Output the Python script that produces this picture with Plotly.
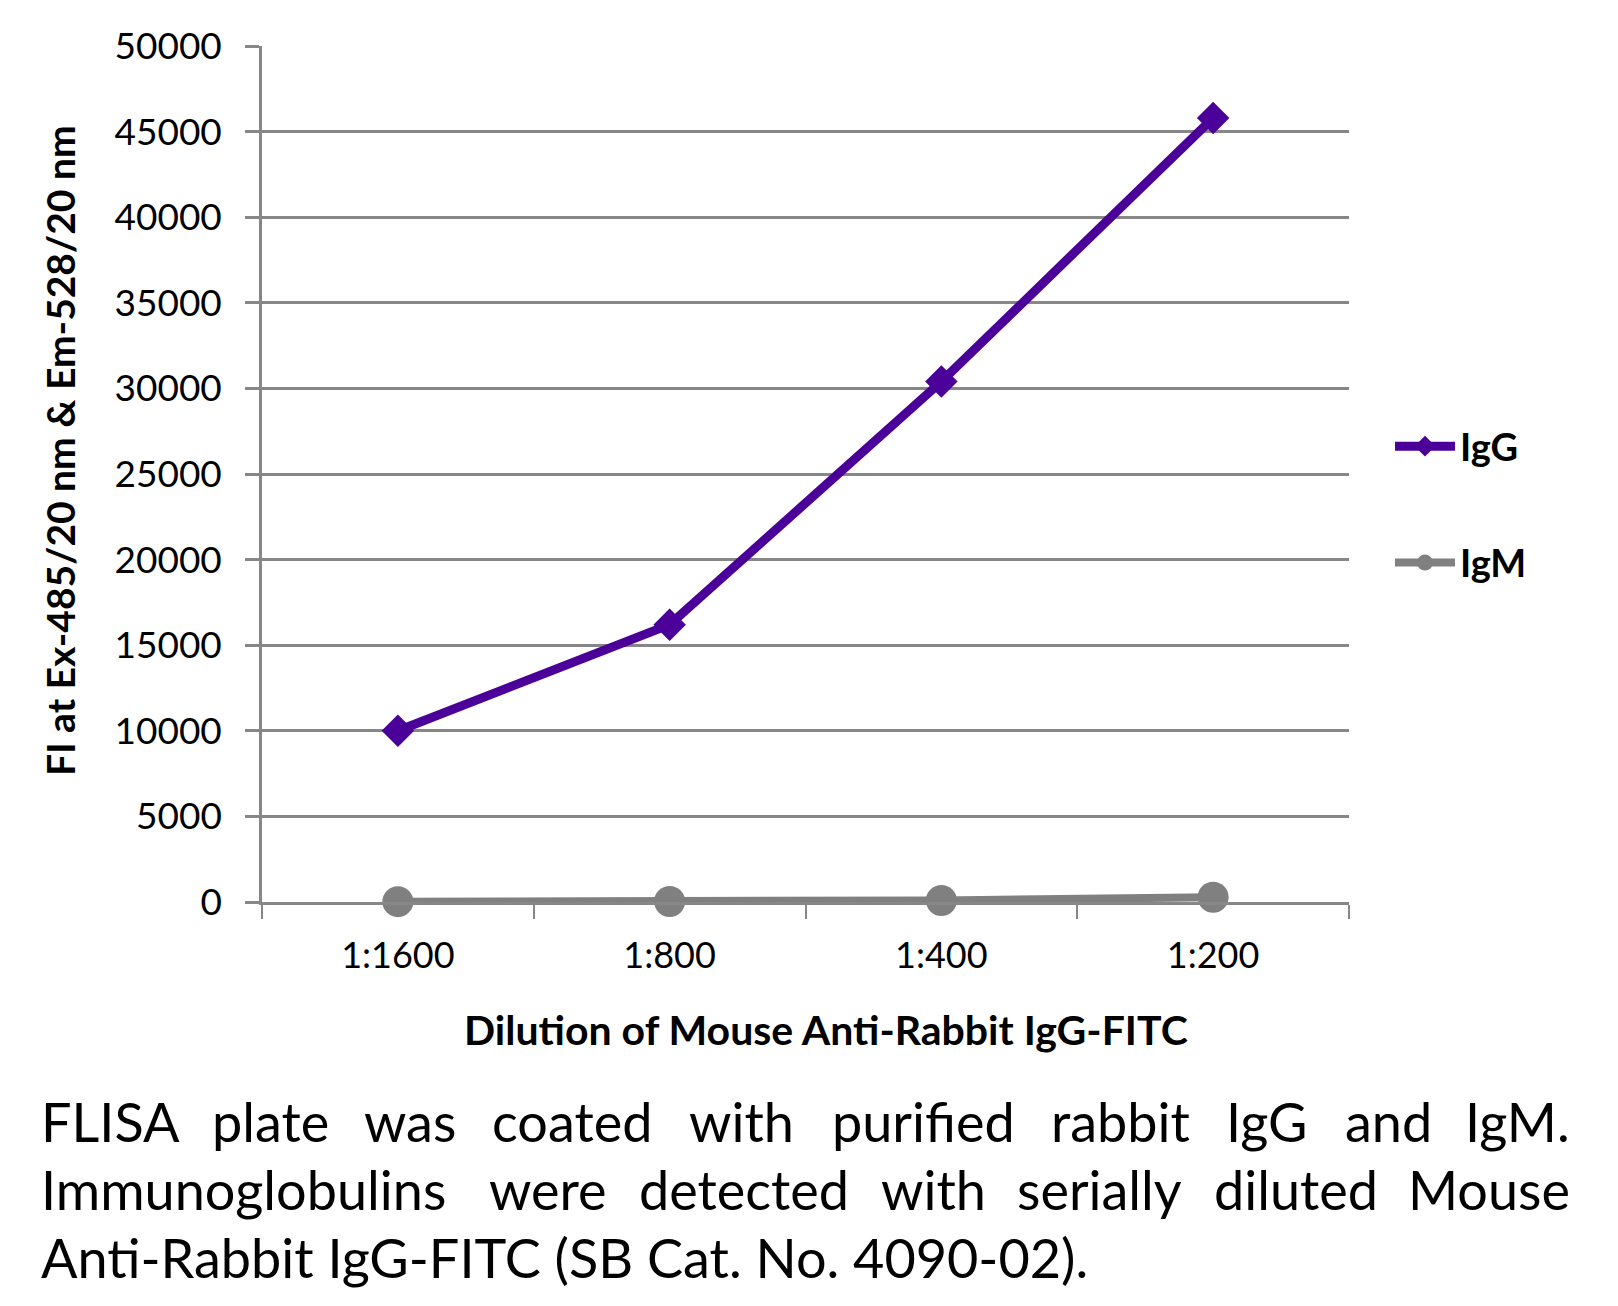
import plotly.graph_objects as go

# ---- data ----
dilutions = ["1:1600", "1:800", "1:400", "1:200"]
igg_values = [10000, 16200, 30400, 45800]
igm_values = [20, 30, 90, 280]
y_ticks = [0, 5000, 10000, 15000, 20000, 25000, 30000, 35000, 40000, 45000, 50000]

x_title = "Dilution of Mouse Anti-Rabbit IgG-FITC"
y_title = "FI at Ex-485/20 nm &amp; Em-528/20 nm"
caption_line1 = ["FLISA", "plate", "was", "coated", "with", "purified", "rabbit", "IgG", "and", "IgM."]
caption_line2 = ["Immunoglobulins", "were", "detected", "with", "serially", "diluted", "Mouse"]
caption_line3 = "Anti-Rabbit IgG-FITC (SB Cat. No. 4090-02)."

# ---- layout geometry (pixels) ----
W, H = 1618, 1306
L, R, T, B = 262, 1349, 46, 902
PW, PH = R - L, B - T
FONT = "Lato"
GRID = "#878787"


def px_x(px):
    return (px - L) / PW


def px_y(py):
    return (B - py) / PH


fig = go.Figure()
fig.add_trace(go.Scatter(
    x=dilutions, y=igg_values, name="IgG", mode="lines+markers",
    line=dict(color="#4B0099", width=9),
    marker=dict(symbol="diamond", size=25, color="#4B0099"),
    legendgroup="g1", cliponaxis=False,
))
fig.add_trace(go.Scatter(
    x=dilutions, y=igm_values, name="IgM", mode="lines+markers",
    line=dict(color="#808080", width=8),
    marker=dict(symbol="circle", size=31, color="#808080"),
    legendgroup="g2", cliponaxis=False,
))

annotations = []
# axis titles
annotations.append(dict(
    text=f"<b>{x_title}</b>", x=px_x(826), y=px_y(1029), xref="paper", yref="paper",
    xanchor="center", yanchor="middle", showarrow=False,
    font=dict(family=FONT, size=41, color="black"),
))
annotations.append(dict(
    text=f"<b>{y_title}</b>", x=px_x(60), y=px_y(451), xref="paper", yref="paper",
    xanchor="center", yanchor="middle", showarrow=False, textangle=-90,
    font=dict(family=FONT, size=39, color="black"),
))

# justified caption, word by word
cap_fs = 54
line1_centers = [106, 270, 410, 572, 741, 923, 1120, 1266, 1388, 1521]
line2_centers = [257, 548, 744, 933, 1099, 1296, 1490]
baselines = [1142, 1210, 1278]


def add_line(words, centers, baseline):
    yc = px_y(baseline - 0.387 * cap_fs)
    n = len(words)
    for i, (w, c) in enumerate(zip(words, centers)):
        if i == 0:
            xa, xp = "left", 39
        elif i == n - 1:
            xa, xp = "right", 1572
        else:
            xa, xp = "center", c
        annotations.append(dict(
            text=w, x=px_x(xp), y=yc, xref="paper", yref="paper",
            xanchor=xa, yanchor="middle", showarrow=False,
            font=dict(family=FONT, size=cap_fs, color="black"),
        ))


add_line(caption_line1, line1_centers, baselines[0])
add_line(caption_line2, line2_centers, baselines[1])
annotations.append(dict(
    text=caption_line3, x=px_x(39), y=px_y(baselines[2] - 0.387 * cap_fs),
    xref="paper", yref="paper", xanchor="left", yanchor="middle", showarrow=False,
    font=dict(family=FONT, size=cap_fs, color="black"),
))

fig.update_layout(
    width=W, height=H, autosize=False,
    margin=dict(l=L, r=W - R, t=T, b=H - B, pad=0),
    paper_bgcolor="white", plot_bgcolor="white",
    font=dict(family=FONT, color="black"),
    showlegend=True,
    legend=dict(
        x=px_x(1390), y=px_y(415), xanchor="left", yanchor="top",
        font=dict(family=FONT, size=38, color="black", weight="bold"),
        itemwidth=60, tracegroupgap=64, bgcolor="rgba(0,0,0,0)",
    ),
    annotations=annotations,
)
fig.update_xaxes(
    type="category", range=[-0.5, 3.5], showgrid=False, zeroline=False,
    showline=True, linecolor=GRID, linewidth=2.5,
    ticks="outside", tickson="boundaries", ticklen=14, tickwidth=2, tickcolor=GRID,
    tickfont=dict(family=FONT, size=36, color="black"), ticklabelstandoff=20,
)
fig.update_yaxes(
    range=[0, 50000], tickvals=y_ticks, tickformat="d",
    showgrid=True, gridcolor=GRID, gridwidth=2.5, zeroline=False,
    showline=True, linecolor=GRID, linewidth=2.5,
    ticks="outside", ticklen=14, tickwidth=2.5, tickcolor=GRID,
    tickfont=dict(family=FONT, size=37, color="black"), ticklabelstandoff=16,
)

fig.write_html("out.html")
